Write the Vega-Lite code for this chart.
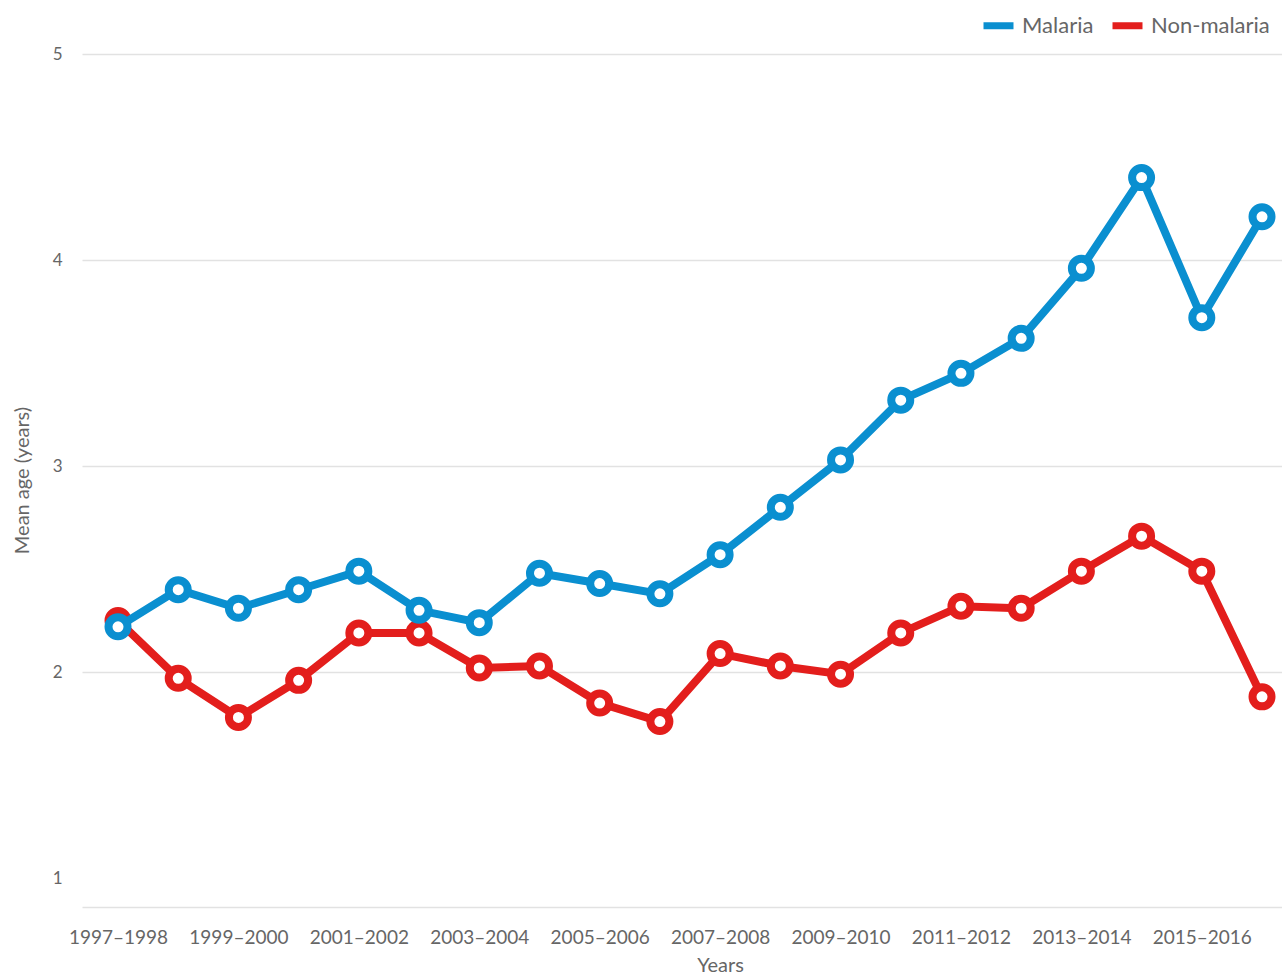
{
  "$schema": "https://vega.github.io/schema/vega-lite/v6.json",
  "width": 1200,
  "height": 853,
  "autosize": {"type": "none"},
  "padding": {"left": 82, "top": 54, "right": 0, "bottom": 67},
  "background": "white",
  "config": {
    "font": "Lato",
    "view": {"stroke": null},
    "axis": {"labelColor": "#666666", "titleColor": "#666666", "titleFontWeight": "normal"}
  },
  "data": {
    "values": [
      {"period": "1997–1998", "series": "Malaria", "age": 2.22},
      {"period": "1998–1999", "series": "Malaria", "age": 2.40},
      {"period": "1999–2000", "series": "Malaria", "age": 2.31},
      {"period": "2000–2001", "series": "Malaria", "age": 2.40},
      {"period": "2001–2002", "series": "Malaria", "age": 2.49},
      {"period": "2002–2003", "series": "Malaria", "age": 2.30},
      {"period": "2003–2004", "series": "Malaria", "age": 2.24},
      {"period": "2004–2005", "series": "Malaria", "age": 2.48},
      {"period": "2005–2006", "series": "Malaria", "age": 2.43},
      {"period": "2006–2007", "series": "Malaria", "age": 2.38},
      {"period": "2007–2008", "series": "Malaria", "age": 2.57},
      {"period": "2008–2009", "series": "Malaria", "age": 2.80},
      {"period": "2009–2010", "series": "Malaria", "age": 3.03},
      {"period": "2010–2011", "series": "Malaria", "age": 3.32},
      {"period": "2011–2012", "series": "Malaria", "age": 3.45},
      {"period": "2012–2013", "series": "Malaria", "age": 3.62},
      {"period": "2013–2014", "series": "Malaria", "age": 3.96},
      {"period": "2014–2015", "series": "Malaria", "age": 4.40},
      {"period": "2015–2016", "series": "Malaria", "age": 3.72},
      {"period": "2016–2017", "series": "Malaria", "age": 4.21},
      {"period": "1997–1998", "series": "Non-malaria", "age": 2.25},
      {"period": "1998–1999", "series": "Non-malaria", "age": 1.97},
      {"period": "1999–2000", "series": "Non-malaria", "age": 1.78},
      {"period": "2000–2001", "series": "Non-malaria", "age": 1.96},
      {"period": "2001–2002", "series": "Non-malaria", "age": 2.19},
      {"period": "2002–2003", "series": "Non-malaria", "age": 2.19},
      {"period": "2003–2004", "series": "Non-malaria", "age": 2.02},
      {"period": "2004–2005", "series": "Non-malaria", "age": 2.03},
      {"period": "2005–2006", "series": "Non-malaria", "age": 1.85},
      {"period": "2006–2007", "series": "Non-malaria", "age": 1.76},
      {"period": "2007–2008", "series": "Non-malaria", "age": 2.09},
      {"period": "2008–2009", "series": "Non-malaria", "age": 2.03},
      {"period": "2009–2010", "series": "Non-malaria", "age": 1.99},
      {"period": "2010–2011", "series": "Non-malaria", "age": 2.19},
      {"period": "2011–2012", "series": "Non-malaria", "age": 2.32},
      {"period": "2012–2013", "series": "Non-malaria", "age": 2.31},
      {"period": "2013–2014", "series": "Non-malaria", "age": 2.49},
      {"period": "2014–2015", "series": "Non-malaria", "age": 2.66},
      {"period": "2015–2016", "series": "Non-malaria", "age": 2.49},
      {"period": "2016–2017", "series": "Non-malaria", "age": 1.88}
    ]
  },
  "encoding": {
    "x": {
      "field": "period",
      "type": "ordinal",
      "sort": null,
      "scale": {"type": "point", "padding": 0.465, "align": 0.643},
      "axis": {
        "title": "Years",
        "values": ["1997–1998", "1999–2000", "2001–2002", "2003–2004", "2005–2006", "2007–2008", "2009–2010", "2011–2012", "2013–2014", "2015–2016"],
        "labelAngle": 0,
        "labelFontSize": 19,
        "labelPadding": 21,
        "ticks": false,
        "domain": true,
        "domainColor": "#e2e2e2",
        "domainWidth": 1.5,
        "grid": false,
        "titleFontSize": 20,
        "titleX": 638,
        "titleY": 58,
        "titleBaseline": "middle"
      }
    },
    "y": {
      "field": "age",
      "type": "quantitative",
      "scale": {"domain": [0.86, 5], "nice": false, "zero": false},
      "axis": {
        "title": "Mean age (years)",
        "values": [1, 2, 3, 4, 5],
        "labelFontSize": 17,
        "labelPadding": 20,
        "ticks": false,
        "domain": false,
        "grid": true,
        "gridColor": "#e2e2e2",
        "gridWidth": 1.5,
        "gridOpacity": {"condition": {"test": "datum.value == 1", "value": 0}, "value": 1},
        "titleFontSize": 20,
        "titleX": -60,
        "titleY": 426,
        "titleAlign": "center",
        "titleBaseline": "middle",
        "titleAngle": -90
      }
    }
  },
  "layer": [
    {
      "transform": [{"filter": "datum.series == 'Non-malaria'"}],
      "mark": {"type": "line", "strokeWidth": 8},
      "encoding": {
        "color": {
          "field": "series",
          "type": "nominal",
          "scale": {"domain": ["Malaria", "Non-malaria"], "range": ["#0a8fd0", "#e31e1c"]},
          "legend": {
            "title": null,
            "orient": "none",
            "direction": "horizontal",
            "legendX": 898,
            "legendY": -47,
            "symbolType": "stroke",
            "symbolSize": 900,
            "symbolStrokeWidth": 7,
            "labelFontSize": 22,
            "labelColor": "#666666",
            "columnPadding": 4,
            "labelOffset": 5
          }
        }
      }
    },
    {
      "transform": [{"filter": "datum.series == 'Non-malaria'"}],
      "mark": {"type": "point", "filled": false, "fill": "white", "fillOpacity": 1, "size": 361, "strokeWidth": 8, "opacity": 1},
      "encoding": {
        "stroke": {
          "field": "series",
          "type": "nominal",
          "scale": {"domain": ["Malaria", "Non-malaria"], "range": ["#0a8fd0", "#e31e1c"]},
          "legend": null
        }
      }
    },
    {
      "transform": [{"filter": "datum.series == 'Malaria'"}],
      "mark": {"type": "line", "strokeWidth": 8},
      "encoding": {
        "color": {"field": "series", "type": "nominal"}
      }
    },
    {
      "transform": [{"filter": "datum.series == 'Malaria'"}],
      "mark": {"type": "point", "filled": false, "fill": "white", "fillOpacity": 1, "size": 361, "strokeWidth": 8, "opacity": 1},
      "encoding": {
        "stroke": {"field": "series", "type": "nominal", "legend": null}
      }
    }
  ]
}
